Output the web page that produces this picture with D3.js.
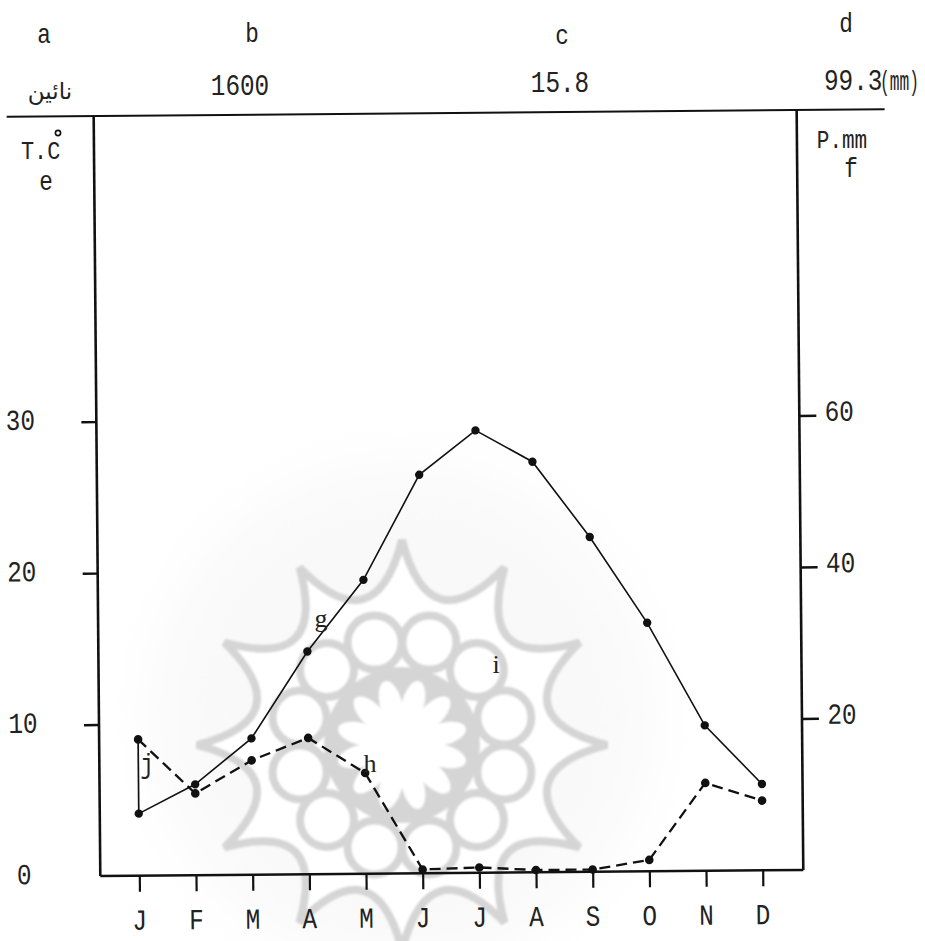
<!DOCTYPE html>
<html>
<head>
<meta charset="utf-8">
<script src="https://cdn.jsdelivr.net/npm/d3@7"></script>
<style>
  body { margin: 0; background: #fff; }
  svg { display: block; }
</style>
</head>
<body>
<svg id="chart" width="925" height="941"></svg>
<script>
// Ombrothermic diagram for Nain (نائین): monthly mean temperature (°C) and precipitation (mm)
const months = ["J", "F", "M", "A", "M", "J", "J", "A", "S", "O", "N", "D"];
const temperature = [4.1, 6.0, 9.0, 14.7, 19.4, 26.3, 29.2, 27.1, 22.1, 16.4, 9.6, 5.7];
const precipitation = [18.0, 10.8, 15.1, 18.0, 13.3, 0.5, 0.7, 0.3, 0.3, 1.5, 11.6, 9.2];
const tempTicks = [0, 10, 20, 30];
const precipTicks = [20, 40, 60];
const stationName = "نائین";
const altitude = "1600";
const meanTemp = "15.8";
const annualPrecip = "99.3";

const svg = d3.select("#chart");
const MONO = "'Liberation Mono', 'DejaVu Sans Mono', monospace";
const SERIF = "'Liberation Serif', 'DejaVu Serif', serif";

// plot frame
const L = 97, R = 800, T = 113, B = 873;
const x = d3.scalePoint().domain(d3.range(months.length)).range([136, 759.4]);
const yT = d3.scaleLinear().domain([0, 30]).range([B, 418.5]);
const yP = d3.scaleLinear().domain([0, 60]).range([B, 418.5]);

// narrow plotter-style lettering
function label(parent, txt, px, py, opt = {}) {
  const size = opt.size || 29, sx = opt.sx || 0.84;
  return parent.append("text")
    .attr("transform", `translate(${px},${py}) scale(${sx},1)`)
    .attr("text-anchor", opt.anchor || "middle")
    .attr("dominant-baseline", opt.baseline || "auto")
    .attr("font-family", opt.family || MONO)
    .attr("font-size", size)
    .attr("fill", "#222")
    .text(txt);
}

// ---------- background rosette ornament ----------
const defs = svg.append("defs");
defs.append("filter").attr("id", "soft").append("feGaussianBlur").attr("stdDeviation", 1.3);
defs.append("filter").attr("id", "haze").append("feGaussianBlur").attr("stdDeviation", 30);

const cx = 402, cy = 745;
svg.append("circle").attr("cx", cx).attr("cy", cy - 30).attr("r", 250)
  .attr("fill", "#f9f9f9").attr("filter", "url(#haze)");

const orn = svg.append("g").attr("filter", "url(#soft)");
const grey = "#d5d5d5";
const rad = d => d * Math.PI / 180;
const pt = (r, a) => [cx + r * Math.cos(rad(a)), cy + r * Math.sin(rad(a))];

// twelve-point star with concave edges
let star = "";
for (let k = 0; k < 12; k++) {
  const a = k * 30, tip = pt(205, a), ctrl = pt(104, a + 15), next = pt(205, a + 30);
  star += (k === 0 ? `M${tip}` : "") + ` Q${ctrl} ${next}`;
}
orn.append("path").attr("d", star + "Z")
  .attr("fill", "#fff").attr("stroke", grey).attr("stroke-width", 8);

// central disc with a white twelve-petal flower
orn.append("circle").attr("cx", cx).attr("cy", cy).attr("r", 78).attr("fill", grey);
for (let k = 0; k < 12; k++) {
  const a = k * 30 + 15, p = pt(43, a);
  orn.append("ellipse").attr("cx", p[0]).attr("cy", p[1]).attr("rx", 23).attr("ry", 11)
    .attr("transform", `rotate(${a},${p[0]},${p[1]})`).attr("fill", "#fff");
}
orn.append("circle").attr("cx", cx).attr("cy", cy).attr("r", 33).attr("fill", "#fff");
// ring of circles round the flower
for (let k = 0; k < 12; k++) {
  const p = pt(106, k * 30 + 15);
  orn.append("circle").attr("cx", p[0]).attr("cy", p[1]).attr("r", 27)
    .attr("fill", "#fff").attr("stroke", grey).attr("stroke-width", 8);
}

// ---------- chart frame, axes and series ----------
const g = svg.append("g").attr("transform", "rotate(-0.5,450,495)");

// frame lines
g.append("line").attr("x1", 10).attr("x2", 888).attr("y1", T).attr("y2", T)
  .attr("stroke", "#111").attr("stroke-width", 2);
g.append("line").attr("x1", L).attr("x2", L).attr("y1", T).attr("y2", B)
  .attr("stroke", "#111").attr("stroke-width", 2.6);
g.append("line").attr("x1", R).attr("x2", R).attr("y1", T).attr("y2", B)
  .attr("stroke", "#111").attr("stroke-width", 2.6);

// left temperature axis
const axL = g.append("g").attr("transform", `translate(${L},0)`)
  .call(d3.axisLeft(yT).tickValues(tempTicks.filter(v => v > 0)).tickSize(15).tickFormat(""));
axL.select(".domain").remove();
axL.selectAll(".tick line").attr("stroke", "#111").attr("stroke-width", 2.4);
tempTicks.forEach(v => label(g, String(v), 21, yT(v), { baseline: "central" }));

// right precipitation axis
const axR = g.append("g").attr("transform", `translate(${R},0)`)
  .call(d3.axisRight(yP).tickValues(precipTicks).tickSize(17).tickFormat(""));
axR.select(".domain").remove();
axR.selectAll(".tick line").attr("stroke", "#111").attr("stroke-width", 2.4);
precipTicks.forEach(v => label(g, String(v), 840, yP(v) - 2, { baseline: "central" }));

// bottom month axis
const axB = g.append("g").attr("transform", `translate(0,${B})`)
  .call(d3.axisBottom(x).tickSize(16).tickFormat(""));
axB.select(".domain").remove();
axB.selectAll(".tick line").attr("stroke", "#111").attr("stroke-width", 2.2);
g.append("line").attr("x1", L).attr("x2", R).attr("y1", B).attr("y2", B)
  .attr("stroke", "#111").attr("stroke-width", 2.4);
months.forEach((m, i) => label(g, m, x(i), B + 54));

// January humid-period bar joining the two curves
g.append("line")
  .attr("x1", x(0)).attr("x2", x(0))
  .attr("y1", yT(temperature[0])).attr("y2", yP(precipitation[0]))
  .attr("stroke", "#111").attr("stroke-width", 1.7);

// precipitation: dashed
const precipLine = d3.line().x((d, i) => x(i)).y(d => yP(d));
g.append("path").datum(precipitation).attr("d", precipLine)
  .attr("fill", "none").attr("stroke", "#111").attr("stroke-width", 2.3)
  .attr("stroke-dasharray", "11,6");
g.selectAll(".pdot").data(precipitation).join("circle").attr("class", "pdot")
  .attr("cx", (d, i) => x(i)).attr("cy", d => yP(d)).attr("r", 4.3).attr("fill", "#111");

// temperature: solid
const tempLine = d3.line().x((d, i) => x(i)).y(d => yT(d));
g.append("path").datum(temperature).attr("d", tempLine)
  .attr("fill", "none").attr("stroke", "#111").attr("stroke-width", 1.6);
g.selectAll(".tdot").data(temperature).join("circle").attr("class", "tdot")
  .attr("cx", (d, i) => x(i)).attr("cy", d => yT(d)).attr("r", 4.2).attr("fill", "#111");

// ---------- header and annotations ----------
label(svg, "a", 44, 43, { size: 27 });
label(svg, "b", 252, 42, { size: 27 });
label(svg, "c", 562, 44, { size: 27 });
label(svg, "d", 846, 32, { size: 27 });
svg.append("text").attr("x", 50).attr("y", 99).attr("text-anchor", "middle")
  .attr("font-family", "'DejaVu Sans', 'Noto Sans', sans-serif").attr("font-size", 23)
  .attr("fill", "#222").text(stationName);
label(svg, altitude, 240, 95);
label(svg, meanTemp, 560, 92);
label(svg, annualPrecip, 824, 90, { anchor: "start" });
label(svg, "(mm)", 880, 90, { anchor: "start", size: 27, sx: 0.6 });

label(svg, "T.C", 21, 159, { anchor: "start", size: 26 });
svg.append("circle").attr("cx", 58).attr("cy", 133).attr("r", 2.6)
  .attr("fill", "none").attr("stroke", "#111").attr("stroke-width", 1.6);
label(svg, "e", 46, 190, { size: 27 });
label(svg, "P.mm", 842, 148, { size: 25 });
label(svg, "f", 851, 177, { size: 27 });

label(svg, "g", 321, 627, { family: SERIF, size: 26, sx: 1 });
label(svg, "h", 370, 772, { family: SERIF, size: 26, sx: 1 });
label(svg, "i", 496, 673, { family: SERIF, size: 26, sx: 1 });
label(svg, "j", 147, 773, { size: 27 });
</script>
</body>
</html>
